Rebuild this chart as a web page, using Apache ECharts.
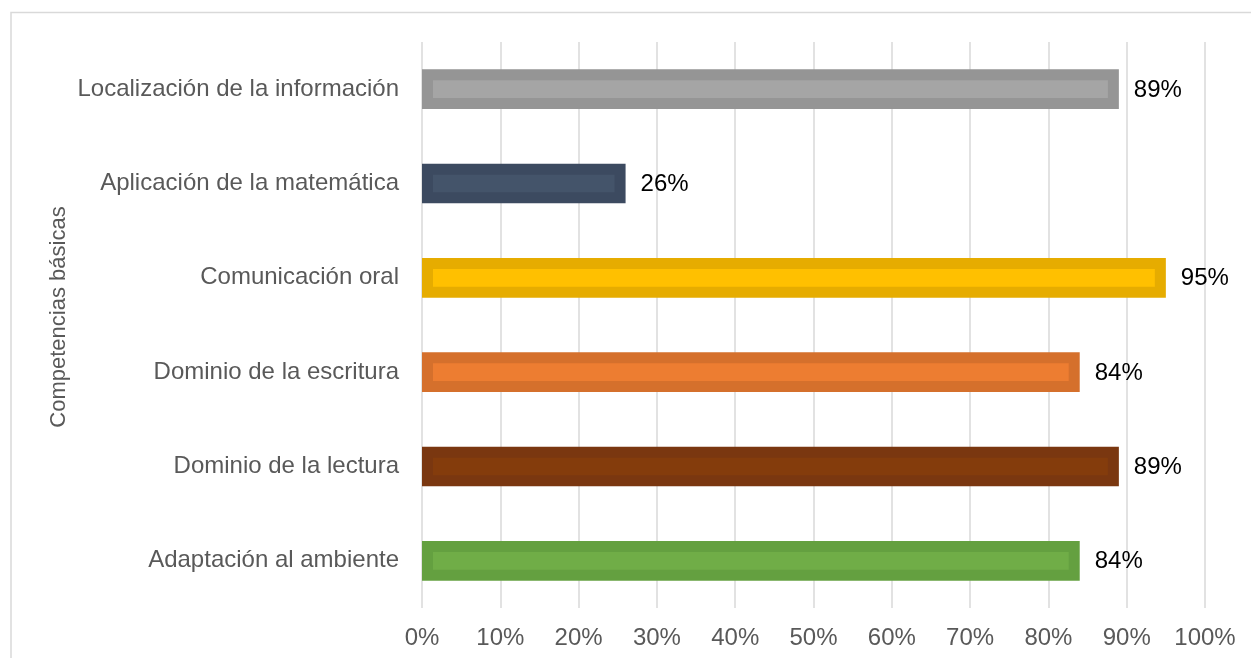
<!DOCTYPE html>
<html>
<head>
<meta charset="utf-8">
<script src="https://cdn.jsdelivr.net/npm/echarts@6/dist/echarts.min.js"></script>
<style>
  html, body { margin: 0; padding: 0; background: #ffffff; }
  #chart { width: 1251px; height: 658px; }
</style>
</head>
<body>
<div id="chart"></div>
<script>
// Competencias básicas: porcentaje alcanzado por competencia (de arriba a abajo)
const categories = [
  'Localización de la información',
  'Aplicación de la matemática',
  'Comunicación oral',
  'Dominio de la escritura',
  'Dominio de la lectura',
  'Adaptación al ambiente'
];
const values = [89, 26, 95, 84, 89, 84];
const tickLabels = ['0%', '10%', '20%', '30%', '40%', '50%', '60%', '70%', '80%', '90%', '100%'];

// Bar palette: inner fill and darker outline for each competency
const fillColors = ['#a5a5a5', '#44546a', '#ffc000', '#ed7d31', '#843c0c', '#70ad47'];
const edgeColors = ['#959595', '#3c4a60', '#e6ac00', '#d5702c', '#7a3710', '#64a040'];

const FONT = '"Liberation Sans", Arial, sans-serif';
const chart = echarts.init(document.getElementById('chart'));

const option = {
  backgroundColor: '#ffffff',
  animation: false,
  graphic: [
    {
      type: 'rect',
      shape: { x: 11, y: 12.5, width: 1300, height: 700 },
      style: { fill: 'none', stroke: '#d9d9d9', lineWidth: 1.5 },
      silent: true
    },
    {
      type: 'text',
      x: 59,
      y: 317,
      rotation: Math.PI / 2,
      style: {
        text: 'Competencias básicas',
        fontFamily: FONT,
        fontSize: 22,
        fill: '#595959',
        align: 'center',
        verticalAlign: 'middle'
      }
    }
  ],
  grid: { left: 422, right: 46, top: 42, bottom: 50 },
  xAxis: {
    type: 'value',
    min: 0,
    max: 100,
    interval: 10,
    axisLine: { show: false },
    axisTick: { show: false },
    splitLine: { show: true, lineStyle: { color: '#d9d9d9', width: 1.5 } },
    axisLabel: {
      margin: 18,
      color: '#595959',
      fontFamily: FONT,
      fontSize: 24,
      formatter: function (v) { return tickLabels[Math.round(v / 10)]; }
    }
  },
  yAxis: {
    type: 'category',
    inverse: true,
    data: categories,
    axisLine: { show: false },
    axisTick: { show: false },
    axisLabel: {
      margin: 23,
      color: '#595959',
      fontFamily: FONT,
      fontSize: 24
    }
  },
  series: [
    {
      type: 'custom',
      clip: false,
      encode: { x: 0, y: 1 },
      data: values.map(function (v, i) { return [v, i]; }),
      renderItem: function (params, api) {
        const val = api.value(0);
        const cat = api.value(1);
        const start = api.coord([0, cat]);
        const end = api.coord([val, cat]);
        const h = api.size([0, 1])[1] * 0.42;
        const w = end[0] - start[0];
        const inset = 11;
        const top = start[1] - h / 2;
        const idx = params.dataIndex;
        return {
          type: 'group',
          children: [
            {
              type: 'rect',
              shape: { x: start[0], y: top, width: w, height: h },
              style: { fill: edgeColors[idx] }
            },
            {
              type: 'rect',
              shape: {
                x: start[0] + inset,
                y: top + inset,
                width: Math.max(w - 2 * inset, 0),
                height: h - 2 * inset
              },
              style: { fill: fillColors[idx] }
            },
            {
              type: 'text',
              x: end[0] + 15,
              y: end[1] + 1,
              style: {
                text: val + '%',
                fontFamily: FONT,
                fontSize: 24,
                fill: '#000000',
                align: 'left',
                verticalAlign: 'middle'
              }
            }
          ]
        };
      }
    }
  ]
};

chart.setOption(option);
</script>
</body>
</html>
